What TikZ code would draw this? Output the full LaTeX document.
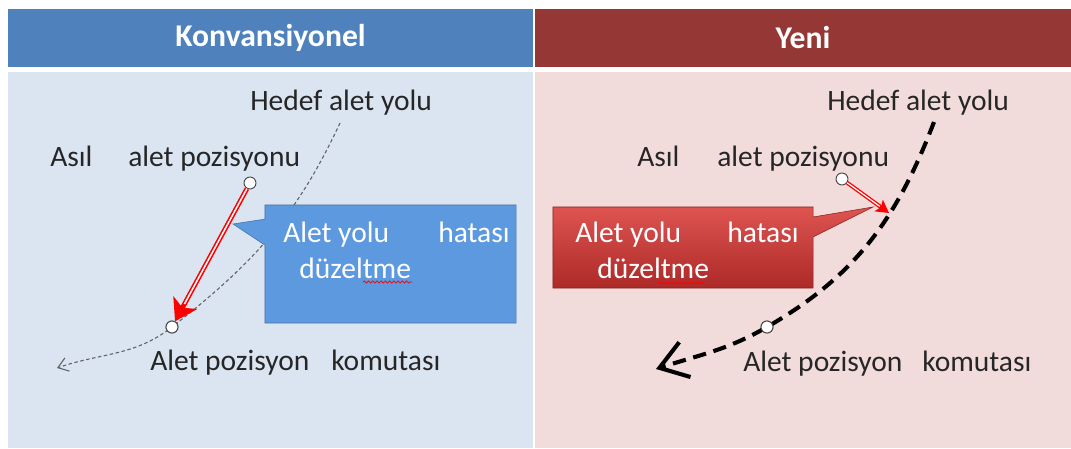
\documentclass[tikz,border=0pt]{standalone}
\usepackage{fontspec}
\setmainfont{Carlito}
\usetikzlibrary{arrows.meta,shapes.callouts,decorations.pathmorphing}
\definecolor{headblue}{RGB}{79,129,189}
\definecolor{headred}{RGB}{149,55,53}
\definecolor{paneblue}{RGB}{219,229,241}
\definecolor{panered}{RGB}{242,220,219}
\definecolor{calloutblue}{RGB}{93,153,222}
\definecolor{calloutredtop}{RGB}{222,84,80}
\definecolor{calloutredbot}{RGB}{172,42,40}

\begin{document}
\begin{tikzpicture}[x=0.025cm, y=0.025cm,
            header/.style={minimum height=1.45cm, inner sep=0pt, text=white, font=\fontsize{22.5}{27}\selectfont\bfseries},
            label/.style={anchor=base west, inner sep=0pt, text=black!85, font=\fontsize{21}{25}\selectfont},
            boxtext/.style={label, text=white},
            dot/.style={circle, draw=black!70, fill=white, line width=0.7pt, minimum size=8.5pt, inner sep=0pt},
            fixbox/.style={rectangle callout, inner sep=0pt},
            fixarrow/.style={red, line width=3.4pt, -{Stealth[length=15pt,width=19pt,inset=4pt]}},
            fixcore/.style={white, line width=1.1pt},
            squiggle/.style={red, line width=0.5pt, decorate, decoration={snake, amplitude=0.8pt, segment length=3pt}}
        ]
            \useasboundingbox[fill=white] (0,0) rectangle (1071,448);

            % Headers
            \node[header, fill=headblue, minimum width=13.125cm] (headL) at (270.5,410) {Konvansiyonel};
            \node[header, fill=headred, minimum width=13.4cm] (headR) at (803,410) {Yeni};

            % Panels
            \fill[paneblue] (8,0) rectangle (533,376);
            \fill[panered] (535,0) rectangle (1071,376);

            % Left: conventional
            \node[label] (hedL) at (250,337) {Hedef alet yolu};
            \node[label] (asilL) at (50,281) {Asıl};
            \node[label] (posL) at (128,281) {alet pozisyonu};
            \node[label] (cmdaL) at (150,78) {Alet pozisyon};
            \node[label] (cmdbL) at (331,78) {komutası};

            \coordinate (topL) at (340,325);
            \coordinate (endL) at (57,80);
            \node[dot] (actL) at (250,265) {};
            \node[dot] (cmdL) at (172,121) {};

            \draw[black!60, line width=0.8pt, dash pattern=on 2.5pt off 1.8pt,
                  -{Straight Barb[length=7pt,width=10pt]}]
                (topL) to[out=245,in=38] (cmdL.center) to[out=218,in=19] (endL);
            \node[dot] at (cmdL) {};

            \coordinate (tipL) at (233,224);
            \node[fixbox, fill=calloutblue, draw=calloutblue!75!black, minimum width=6.275cm, minimum height=2.95cm,
                  callout absolute pointer={(tipL)}, callout pointer width=0.65cm] (fixL) at (390.5,184) {};
            \node[boxtext] (fixaL) at (283,205) {Alet yolu};
            \node[boxtext] (fixbL) at (438,205) {hatası};
            \node[boxtext] (fixcL) at (299,170) {düzeltme};
            \draw[squiggle] (363,166) -- (412,166);

            \draw[fixarrow] (actL) -- (cmdL);
            \draw[fixcore, shorten >=14pt] (actL) -- (cmdL);

            % Right: new
            \node[label] (hedR) at (827,337) {Hedef alet yolu};
            \node[label] (asilR) at (637,281) {Asıl};
            \node[label] (posR) at (717,281) {alet pozisyonu};
            \node[label] (cmdaR) at (743,77) {Alet pozisyon};
            \node[label] (cmdbR) at (922,77) {komutası};

            \coordinate (topR) at (934,326);
            \coordinate (endR) at (656,79);
            \coordinate (aimR) at (889,235);
            \node[dot] (actR) at (842,269) {};
            \node[dot] (cmdR) at (767,121) {};

            \draw[black, line width=2.9pt, dash pattern=on 9.5pt off 5.5pt,
                  -{Straight Barb[length=19pt,width=26pt]}]
                (topR) to[out=249,in=30] (cmdR.center) to[out=210,in=18] (endR);
            \node[dot] at (cmdR) {};

            \coordinate (tipR) at (873,241);
            \node[fixbox, top color=calloutredtop, bottom color=calloutredbot, draw=calloutredbot!80!black,
                  minimum width=6.5cm, minimum height=2.025cm,
                  callout absolute pointer={(tipR)}, callout pointer width=0.5cm] (fixR) at (683,200.5) {};
            \node[boxtext] (fixaR) at (575,205) {Alet yolu};
            \node[boxtext] (fixbR) at (727,205) {hatası};
            \node[boxtext] (fixcR) at (597,170) {düzeltme};
            \draw[squiggle] (658,165) -- (703,165);

            \draw[fixarrow, line width=2.8pt, -{Stealth[length=9pt,width=10pt,inset=2pt]}] (actR) -- (aimR);
            \draw[fixcore, line width=0.9pt, shorten >=8pt] (actR) -- (aimR);

        \end{tikzpicture}
\end{document}
